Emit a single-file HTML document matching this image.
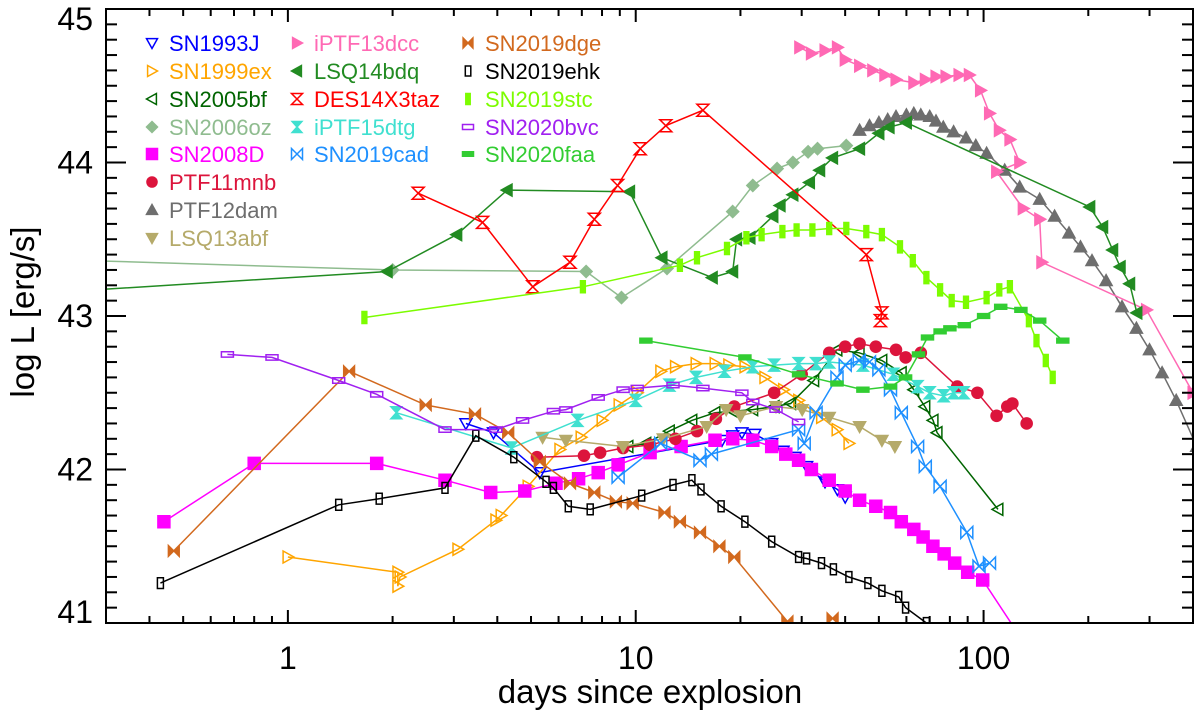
<!DOCTYPE html>
<html><head><meta charset="utf-8">
<style>
html,body{margin:0;padding:0;background:#fff;}
svg{display:block;font-family:"Liberation Sans",Arial,sans-serif;}
</style></head>
<body>
<svg id="chart" width="1200" height="711" viewBox="0 0 1200 711" xmlns="http://www.w3.org/2000/svg">
<defs><clipPath id="plotclip"><rect x="106" y="9" width="1087" height="614"/></clipPath></defs>
<rect x="106" y="9" width="1087" height="614" fill="#fff"/>
<g id="series" clip-path="url(#plotclip)"></g>
<g id="axes"></g>
<g id="legend"></g>
<text transform="translate(34,312) rotate(-90)" text-anchor="middle" font-size="33" fill="#000">log L [erg/s]</text>
<text x="650" y="703" text-anchor="middle" font-size="33" fill="#000">days since explosion</text>
</svg>
<script>
// ---- data ----
const sn1993jDays=[3.25,3.9,5.3,17.7,19,20.2,22,24.6,26.5,28.7,31,35,38,40];
const sn1993jLogL=[42.30,42.24,41.98,42.19,42.22,42.24,42.23,42.17,42.12,42.08,42.02,41.92,41.87,41.82];
const sn1999exDays=[1.0,2.07,2.07,2.1,3.08,3.96,4.1,4.9,6.05,6.96,8,8.95,10.1,11.8,13,14.9,16.9,18.5,20.6,23.5,26.6,29.4,34.2,37.9,41];
const sn1999exLogL=[41.43,41.33,41.24,41.3,41.48,41.67,41.7,41.89,42.13,42.21,42.32,42.42,42.5,42.64,42.67,42.69,42.69,42.68,42.67,42.6,42.52,42.45,42.34,42.26,42.17];
const sn2005bfDays=[9.5,10.7,12.5,14.5,16.9,19,21.7,25,27.9,32.5,37.9,43.9,51,58,63,67.8,71.6,73.5,110];
const sn2005bfLogL=[42.15,42.17,42.25,42.32,42.37,42.38,42.39,42.41,42.43,42.58,42.78,42.76,42.71,42.63,42.52,42.41,42.32,42.24,41.74];
const sn2006ozDays=[0.2,2.0,7.2,9.1,12.3,19,21.7,25.5,28.3,31.3,33.3,40.3];
const sn2006ozLogL=[43.37,43.30,43.29,43.12,43.31,43.68,43.85,43.96,44.0,44.07,44.09,44.11];
const sn2008dDays=[0.44,0.8,1.8,2.83,3.83,4.8,5.9,6.85,7.8,8.9,11,13.5,16.9,19,21.7,24.6,27,29.4,32,36,40,44,49,54,58,63,67,71.5,77,82.6,90,99.4,130];
const sn2008dLogL=[41.66,42.04,42.04,41.93,41.85,41.86,41.91,41.94,41.98,42.03,42.11,42.15,42.19,42.2,42.19,42.15,42.1,42.06,42.0,41.93,41.86,41.8,41.76,41.72,41.66,41.61,41.56,41.5,41.45,41.39,41.33,41.28,40.88];
const ptf11mnbDays=[5.2,7.1,7.9,9.2,11,13,15,17,19.2,25,30,36,40,44,49,56,59.7,66,84,96,109,117,121,133];
const ptf11mnbLogL=[42.08,42.09,42.11,42.14,42.16,42.2,42.25,42.33,42.41,42.5,42.62,42.76,42.8,42.82,42.8,42.78,42.73,42.76,42.54,42.5,42.35,42.41,42.43,42.3];
const ptf12damDays=[44,47,50,53,56,60,63,66,70,73,76.6,82,89,95,102,115,127,145,160,176,190,205,225,250,275,300,326,358,410];
const ptf12damLogL=[44.21,44.24,44.26,44.28,44.3,44.31,44.32,44.31,44.3,44.27,44.23,44.2,44.16,44.11,44.06,43.95,43.84,43.76,43.65,43.54,43.45,43.36,43.23,43.06,42.92,42.78,42.63,42.45,42.15];
const lsq13abfDays=[5.4,6.3,9.2,12,16,18.2,20,25.3,30.1,36,44,51,55.6];
const lsq13abfLogL=[42.21,42.19,42.15,42.2,42.28,42.39,42.35,42.41,42.39,42.34,42.28,42.19,42.15];
const iptf13dccDays=[29.6,32,35,38,40,44,48,52,56,63,68,73,78,85,91,98,104,111,119,127,109,130,145,147,294,400];
const iptf13dccLogL=[44.75,44.71,44.73,44.75,44.67,44.63,44.6,44.57,44.54,44.52,44.54,44.56,44.56,44.57,44.57,44.47,44.32,44.21,44.15,44.0,43.94,43.7,43.63,43.35,43.04,42.5];
const lsq14bdqDays=[0.2,1.93,3.06,4.27,9.6,11.9,16.6,19,19.5,21.3,24.8,26,28.3,31.6,33.8,36.8,44,50,53.5,60,202,220,235,247,263,276];
const lsq14bdqLogL=[43.15,43.29,43.53,43.82,43.81,43.38,43.25,43.29,43.5,43.51,43.65,43.72,43.79,43.87,43.95,44.03,44.09,44.19,44.23,44.26,43.71,43.58,43.43,43.32,43.21,43.02];
const des14x3tazDays=[2.37,3.63,5.06,6.47,7.6,8.87,10.3,12.2,15.6,46,51,50.5];
const des14x3tazLogL=[43.80,43.61,43.19,43.35,43.63,43.85,44.09,44.24,44.34,43.4,43.02,42.97];
const iptf15dtgDays=[2.05,4.4,6.8,10,12.5,14.9,18,21.7,25,29.4,33,36,45,55,64.6,70,76.8,82,87.7];
const iptf15dtgLogL=[42.37,42.14,42.32,42.45,42.55,42.6,42.64,42.67,42.68,42.69,42.69,42.7,42.68,42.62,42.54,42.5,42.48,42.5,42.5];
const sn2019cadDays=[8.9,11.8,15.3,16.5,29.4,30.5,33,37.9,40,43.9,47,50,54,58,64.6,68,75,89.5,97,104];
const sn2019cadLogL=[41.95,42.17,42.06,42.1,42.26,42.17,42.37,42.6,42.68,42.71,42.7,42.65,42.52,42.37,42.15,42.02,41.89,41.59,41.37,41.39];
const sn2019dgeDays=[0.47,1.5,2.49,3.45,4.3,5.3,6.47,7.6,8.77,9.8,12.1,13.4,15.3,17.4,19.2,27.3];
const sn2019dgeLogL=[41.47,42.64,42.42,42.36,42.24,42.05,41.91,41.85,41.79,41.78,41.72,41.66,41.59,41.5,41.43,41.01];
const sn2019dgeLoneDays=[36.8];
const sn2019dgeLoneLogL=[41.03];
const sn2019ehkDays=[0.43,1.4,1.83,2.83,3.47,4.46,5.52,5.8,6.4,7.4,10.4,12.8,14.5,15.4,17.6,20.6,24.6,29.4,31,34.2,37,41,46.5,51,57,59.7,68.5];
const sn2019ehkLogL=[41.26,41.77,41.81,41.88,42.22,42.08,41.92,41.88,41.76,41.74,41.83,41.9,41.93,41.87,41.76,41.66,41.53,41.43,41.42,41.39,41.35,41.3,41.26,41.21,41.17,41.1,41.0];
const sn2019stcDays=[1.66,7.05,13.4,15,18.3,20.8,23,26.4,29,32.2,36,40.3,46,51,57.5,62.6,68.5,75,81,89,102,111,119,135,142,151,158];
const sn2019stcLogL=[42.99,43.19,43.33,43.38,43.44,43.51,43.53,43.55,43.56,43.56,43.57,43.57,43.55,43.53,43.45,43.36,43.25,43.17,43.1,43.09,43.12,43.17,43.19,42.97,42.84,42.71,42.6];
const sn2020bvcDays=[0.67,0.9,1.4,1.8,2.83,3.96,4.73,5.8,6.3,7.8,9.2,10.1,12.8,15.6,20.2,21.7,25.3,29.4];
const sn2020bvcLogL=[42.75,42.73,42.58,42.49,42.26,42.26,42.32,42.38,42.39,42.47,42.52,42.53,42.55,42.53,42.5,42.44,42.39,42.31];
const sn2020faaDays=[10.7,20.6,29.4,37.9,45,54,59.7,65,69,75,80,88,100,112,128,145,169];
const sn2020faaLogL=[42.84,42.73,42.62,42.56,42.52,42.54,42.6,42.75,42.86,42.9,42.92,42.94,43.0,43.06,43.04,42.97,42.84];
const xMajorTicks=[1,10,100];
const xMajorLabels=["1","10","100"];
const yMajorTicks=[41,42,43,44,45];
const yMajorLabels=["41","42","43","44","45"];

// ---- scales ----
const X0=106,X1=1193,Y0=9,Y1=623,DMIN=0.3,DMAX=400,LMIN=41,LMAX=45;
function xs(d){return X0+(Math.log10(d)-Math.log10(DMIN))/(Math.log10(DMAX)-Math.log10(DMIN))*(X1-X0);}
function ys(l){return Y1-(l-LMIN)/(LMAX-LMIN)*(Y1-Y0);}
const NS="http://www.w3.org/2000/svg";
function el(tag,attrs){const e=document.createElementNS(NS,tag);for(const k in attrs)e.setAttribute(k,attrs[k]);return e;}

function markerShape(type,cx,cy,color,s){
  const g=el('g',{});
  let e;
  const poly=(pts,fill)=>el('polygon',{points:pts.map(p=>(cx+p[0]*s).toFixed(1)+','+(cy+p[1]*s).toFixed(1)).join(' '),fill:fill?color:'#fff','fill-opacity':fill?1:0,stroke:color,'stroke-width':1.5});
  switch(type){
    case 'triDownOpen':e=poly([[-1,-0.8],[1,-0.8],[0,1]],false);break;
    case 'triRightOpen':e=poly([[-0.8,-1],[-0.8,1],[1,0]],false);break;
    case 'triLeftOpen':e=poly([[0.8,-1],[0.8,1],[-1,0]],false);break;
    case 'triUp':e=poly([[-1,0.8],[1,0.8],[0,-1]],true);break;
    case 'triDown':e=poly([[-1,-0.8],[1,-0.8],[0,1]],true);break;
    case 'triRight':e=poly([[-0.8,-1],[-0.8,1],[1,0]],true);break;
    case 'triLeft':e=poly([[0.8,-1],[0.8,1],[-1,0]],true);break;
    case 'diamond':e=poly([[0,-1],[1,0],[0,1],[-1,0]],true);break;
    case 'square':e=poly([[-1,-1],[1,-1],[1,1],[-1,1]],true);break;
    case 'circle':e=el('circle',{cx:cx,cy:cy,r:s*1.05,fill:color});break;
    case 'hourOpen':e=poly([[-1,-1],[1,-1],[-1,1],[1,1]],false);break;
    case 'hourFill':e=poly([[-0.9,-1],[0.9,-1],[-0.9,1],[0.9,1]],true);break;
    case 'bowOpen':e=poly([[-1,-1],[-1,1],[1,-1],[1,1]],false);break;
    case 'bowFill':e=poly([[-0.9,-0.9],[-0.9,0.9],[0.9,-0.9],[0.9,0.9]],true);break;
    case 'rectTallOpen':e=poly([[-0.5,-0.9],[0.5,-0.9],[0.5,0.9],[-0.5,0.9]],false);break;
    case 'rectTall':e=poly([[-0.4,-1],[0.4,-1],[0.4,1],[-0.4,1]],true);break;
    case 'rectWideOpen':e=poly([[-1,-0.45],[1,-0.45],[1,0.45],[-1,0.45]],false);break;
    case 'rectWide':e=poly([[-1,-0.4],[1,-0.4],[1,0.4],[-1,0.4]],true);break;
  }
  g.appendChild(e);
  return g;
}

const seriesList=[
 {name:'SN1993J',days:sn1993jDays,logL:sn1993jLogL,color:'#0000ff',m:'triDownOpen'},
 {name:'SN1999ex',days:sn1999exDays,logL:sn1999exLogL,color:'#ffa500',m:'triRightOpen'},
 {name:'SN2005bf',days:sn2005bfDays,logL:sn2005bfLogL,color:'#006400',m:'triLeftOpen'},
 {name:'SN2006oz',days:sn2006ozDays,logL:sn2006ozLogL,color:'#8fbc8f',m:'diamond'},
 {name:'SN2008D',days:sn2008dDays,logL:sn2008dLogL,color:'#ff00ff',m:'square'},
 {name:'PTF11mnb',days:ptf11mnbDays,logL:ptf11mnbLogL,color:'#dc143c',m:'circle'},
 {name:'PTF12dam',days:ptf12damDays,logL:ptf12damLogL,color:'#6e6e6e',m:'triUp'},
 {name:'LSQ13abf',days:lsq13abfDays,logL:lsq13abfLogL,color:'#b5aa6a',m:'triDown'},
 {name:'iPTF13dcc',days:iptf13dccDays,logL:iptf13dccLogL,color:'#ff69b4',m:'triRight'},
 {name:'LSQ14bdq',days:lsq14bdqDays,logL:lsq14bdqLogL,color:'#228b22',m:'triLeft'},
 {name:'DES14X3taz',days:des14x3tazDays,logL:des14x3tazLogL,color:'#ff0000',m:'hourOpen'},
 {name:'iPTF15dtg',days:iptf15dtgDays,logL:iptf15dtgLogL,color:'#40e0d0',m:'hourFill'},
 {name:'SN2019cad',days:sn2019cadDays,logL:sn2019cadLogL,color:'#1e90ff',m:'bowOpen'},
 {name:'SN2019dge',days:sn2019dgeDays,logL:sn2019dgeLogL,color:'#d2691e',m:'bowFill'},
 {name:'SN2019ehk',days:sn2019ehkDays,logL:sn2019ehkLogL,color:'#000000',m:'rectTallOpen'},
 {name:'SN2019stc',days:sn2019stcDays,logL:sn2019stcLogL,color:'#7cfc00',m:'rectTall'},
 {name:'SN2020bvc',days:sn2020bvcDays,logL:sn2020bvcLogL,color:'#a020f0',m:'rectWideOpen'},
 {name:'SN2020faa',days:sn2020faaDays,logL:sn2020faaLogL,color:'#32cd32',m:'rectWide'}
];

const sg=document.getElementById('series');
seriesList.forEach(s=>{
  const g=el('g',{});
  
  
  const pts=s.days.map((d,i)=>xs(d).toFixed(1)+','+ys(s.logL[i]).toFixed(1)).join(' ');
  const line=el('polyline',{points:pts,fill:'none',stroke:s.color,'stroke-width':1.5});
  
  
  g.appendChild(line);
  s.days.forEach((d,i)=>{
    const mk=markerShape(s.m,xs(d),ys(s.logL[i]),s.color,6);
    
    
    g.appendChild(mk);
  });
  if(s.name==='SN2019dge'){
    sn2019dgeLoneDays.forEach((d,i)=>{
      const mk=markerShape(s.m,xs(d),ys(sn2019dgeLoneLogL[i]),s.color,6);
      
      
      g.appendChild(mk);
    });
  }
  sg.appendChild(g);
});

// ---- axes ----
const ag=document.getElementById('axes');
const frame=el('rect',{x:X0,y:Y0,width:X1-X0,height:Y1-Y0,fill:'none',stroke:'#000','stroke-width':2});


ag.appendChild(frame);
function tick(x1,y1,x2,y2){const t=el('line',{x1:x1,y1:y1,x2:x2,y2:y2,stroke:'#000','stroke-width':2});ag.appendChild(t);}
for(let dec=-1;dec<=2;dec++){
  for(let k=1;k<=9;k++){
    const d=k*Math.pow(10,dec);
    if(d<DMIN-1e-9||d>DMAX+1e-9)continue;
    const x=xs(d);
    const len=(k===1)?13:7;
    tick(x,Y1,x,Y1-len);tick(x,Y0,x,Y0+len);
  }
}
xMajorTicks.forEach((d,i)=>{
  const t=el('text',{x:xs(d),y:669,'text-anchor':'middle','font-size':32,fill:'#000'});
  t.textContent=xMajorLabels[i];
  
  
  ag.appendChild(t);
});
for(let v=410;v<=450;v++){
  const l=v/10,y=ys(l);
  const len=(v%10===0)?20:11;
  tick(X0,y,X0+len,y);tick(X1,y,X1-len,y);
}
yMajorTicks.forEach((l,i)=>{
  const by=Math.max(30,Math.min(623,ys(l)+11));
  const t=el('text',{x:93,y:by,'text-anchor':'end','font-size':32,fill:'#000'});
  t.textContent=yMajorLabels[i];
  
  
  ag.appendChild(t);
});

// ---- legend ----
const lg=document.getElementById('legend');
const colX=[152,297,468],rowY=[43,71,99,127,154,182,210,238];
const legendCols=[[0,1,2,3,4,5,6,7],[8,9,10,11,12],[13,14,15,16,17]];
legendCols.forEach((col,ci)=>{
  col.forEach((si,ri)=>{
    const s=seriesList[si];
    const g=el('g',{});
    
    
    g.appendChild(markerShape(s.m,colX[ci],rowY[ri],s.color,5.5));
    const t=el('text',{x:colX[ci]+17,y:rowY[ri]+8,'font-size':22,fill:s.color});
    t.textContent=s.name;
    g.appendChild(t);
    lg.appendChild(g);
  });
});
</script>
</body></html>
